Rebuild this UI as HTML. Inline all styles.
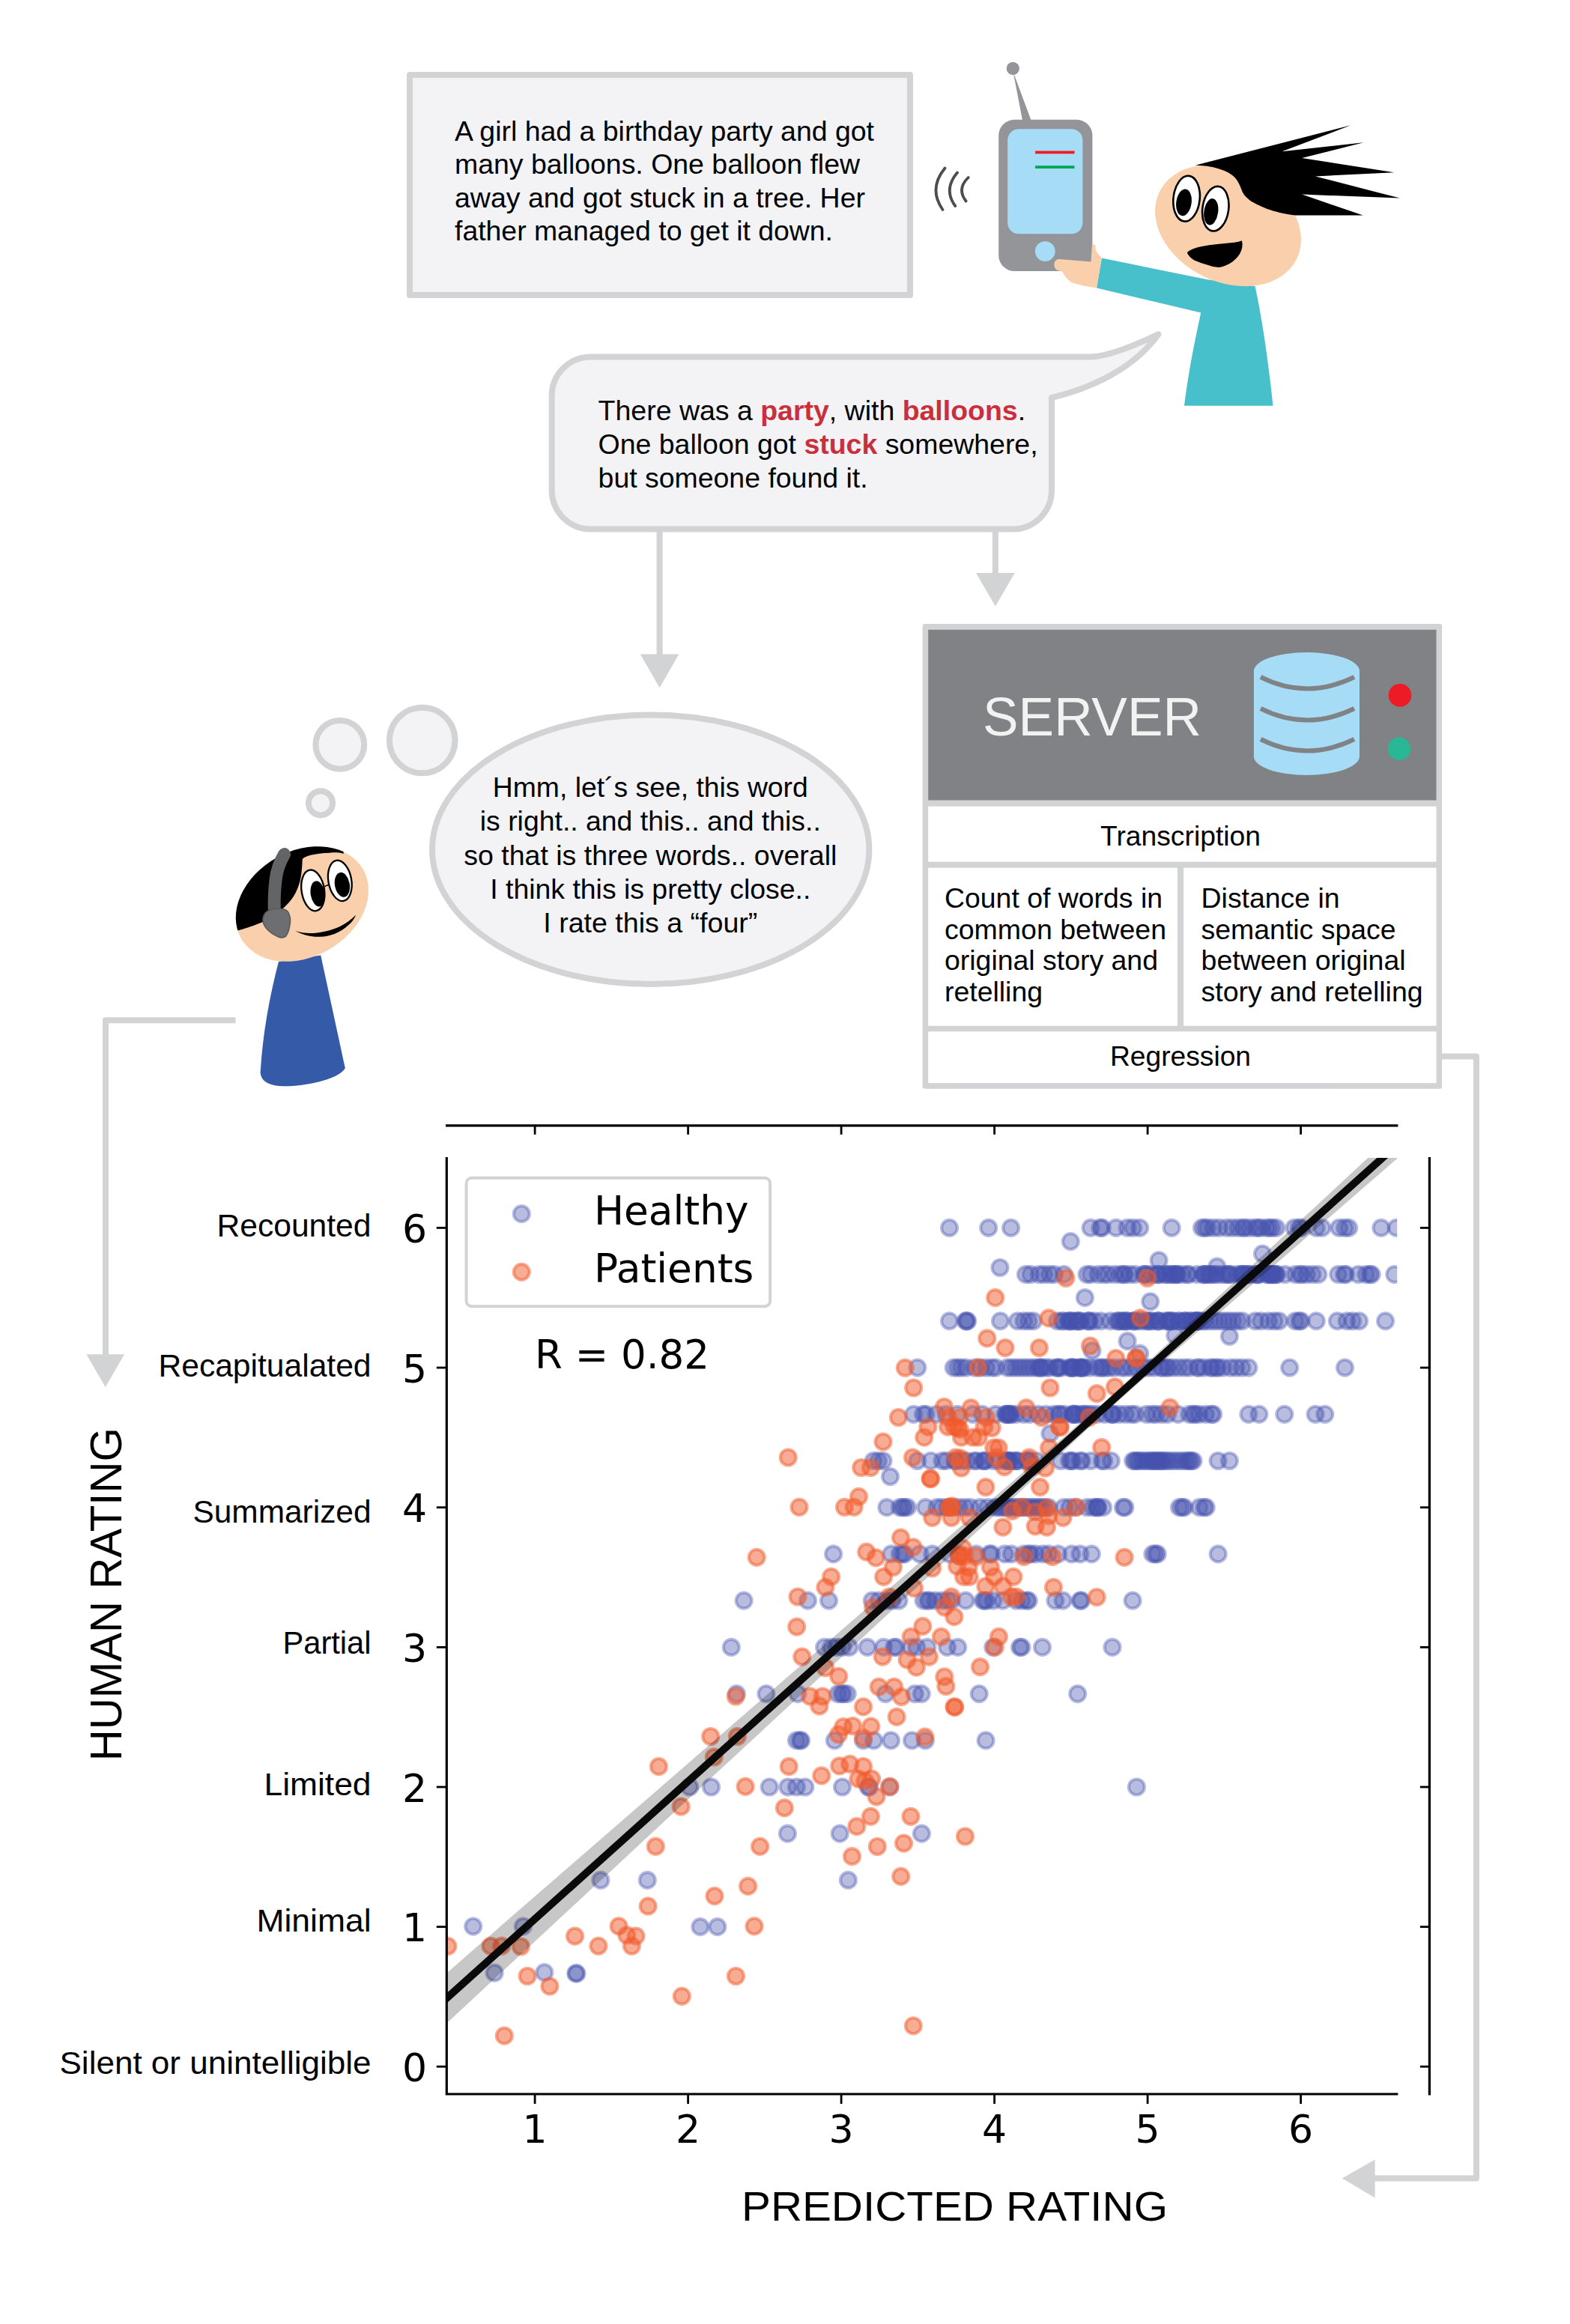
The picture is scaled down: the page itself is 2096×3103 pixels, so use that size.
<!DOCTYPE html>
<html lang="en">
<head>
<meta charset="utf-8">
<title>Story retelling: human rating vs predicted rating</title>
<style>
html,body{margin:0;padding:0;background:#ffffff;}
body{width:2096px;height:3103px;overflow:hidden;}
svg{display:block;}
text{font-family:"Liberation Sans", sans-serif;fill:#000;}
.dj{font-family:"DejaVu Sans", "Liberation Sans", sans-serif;}
.my{font-family:"Liberation Sans", sans-serif;}
</style>
</head>
<body>
<svg width="2096" height="3103" viewBox="0 0 2096 3103">
<rect x="0" y="0" width="2096" height="3103" fill="#ffffff"/>
<g id="storybox">
<rect x="547" y="100" width="668" height="294" fill="#f3f3f5" stroke="#d1d3d4" stroke-width="8" stroke-linejoin="round"/>
<text font-size="37" x="607" y="187.5" textLength="560" lengthAdjust="spacingAndGlyphs">A girl had a birthday party and got</text>
<text font-size="37" x="607" y="232" textLength="541" lengthAdjust="spacingAndGlyphs">many balloons. One balloon flew</text>
<text font-size="37" x="607" y="276.5" textLength="548" lengthAdjust="spacingAndGlyphs">away and got stuck in a tree. Her</text>
<text font-size="37" x="607" y="321" textLength="505" lengthAdjust="spacingAndGlyphs">father managed to get it down.</text>
</g>
<g id="waves" fill="none" stroke="#4d4d4f" stroke-width="3.8" stroke-linecap="round">
<path d="M1261.5 224.5 Q1239 252 1258.5 280"/>
<path d="M1278 230.5 Q1259 253 1275.3 275"/>
<path d="M1292.7 237 Q1277 252 1289.6 268.5"/>
</g>
<g id="phone">
<path d="M1352.6 96 L1365.3 162 L1377.1 162 Z" fill="#939598"/>
<circle cx="1352.3" cy="91.4" r="8.6" fill="#939598"/>
<rect x="1333.2" y="159.8" width="125.2" height="202.2" rx="21" ry="21" fill="#939598"/>
<rect x="1345.2" y="172.2" width="100.2" height="140.1" rx="15" ry="15" fill="#a6dcf5"/>
<circle cx="1395.3" cy="335.6" r="13.4" fill="#a6dcf5"/>
<rect x="1382.1" y="201.5" width="52.4" height="3.8" fill="#ed1c24"/>
<rect x="1382.1" y="221.2" width="52.4" height="3.8" fill="#00a651"/>
</g>
<g id="speaker">
<path d="M1470.8 344.6 L1612 373.2 L1675.5 382 C1686 430 1694 490 1699.5 541.8 L1581 541.8 C1586 500 1594 460 1603.2 417.5 L1464 384.4 Z" fill="#48c0cb"/>
<path d="M1414.5 346.1 L1456.5 349.6 L1458 326 L1462.2 327 L1462.8 333.7 Q1465 339 1470.8 344.6 L1464.1 384.4 Q1445 382 1430.7 377.3 Q1422 371 1418.2 362.4 L1414 361.4 Q1407.3 360.3 1407.3 353.6 Q1407.3 346.1 1414.5 346.1 Z" fill="#fad0ac"/>
<ellipse cx="1639.5" cy="301" rx="102" ry="75.5" transform="rotate(26 1639.5 301)" fill="#fad0ac"/>
<path d="M1595.5 220.8 L1803.2 167.3 L1711.5 202.2 L1820.5 190.3 L1738.2 211.1 L1861.3 230.3 L1756 235.4 L1868.9 264.6 L1738.2 259.6 L1819.7 287.6 L1729.3 287.6 C1712 285 1702 282.5 1691.1 278.7 C1680 274 1674 271 1668.2 267.2 C1662 262 1659.5 258.5 1658 254.5 L1655.4 248.1 C1652 241 1650 238 1645.2 234.1 C1638 228.5 1632 226.5 1622.3 223.9 C1612 221.5 1604 221 1595.5 220.8 Z" fill="#000"/>
<ellipse cx="1584.1" cy="265.2" rx="17.6" ry="30.5" transform="rotate(6 1584.1 265.2)" fill="#fff" stroke="#000" stroke-width="2.6"/>
<ellipse cx="1580.5" cy="270.3" rx="10.2" ry="18" transform="rotate(8 1580.5 270.3)" fill="#000"/>
<ellipse cx="1622.8" cy="278.7" rx="17.4" ry="30" transform="rotate(8 1622.8 278.7)" fill="#fff" stroke="#000" stroke-width="2.6"/>
<ellipse cx="1616.8" cy="282.8" rx="9.4" ry="17.8" transform="rotate(8 1616.8 282.8)" fill="#000"/>
<path d="M1584.8 337.3 Q1590 332 1601.9 329.6 Q1614 327 1627.4 325.8 L1647.8 323.8 Q1654 323 1658 321.2 Q1660 330 1655.4 338.5 Q1651 346 1642.7 351.3 Q1635 356 1627.4 356.9 Q1620 357 1612.1 353.8 Q1602 351 1594.3 347.5 Q1587 343 1584.8 337.3 Z" fill="#000"/>
</g>
<g id="speech">
<path d="M788.7 476.4 L1456 476.4 C1480 476 1515 461 1546.5 446.5 C1515 490 1462 517 1404 531 L1404 654.6 A52 52 0 0 1 1352 706.6 L788.7 706.6 A52 52 0 0 1 736.7 654.6 L736.7 528.4 A52 52 0 0 1 788.7 476.4 Z" fill="#f3f3f5" stroke="#d1d3d4" stroke-width="8" stroke-linejoin="round"/>
<text font-size="37" x="798.6" y="561" textLength="570.5" lengthAdjust="spacingAndGlyphs">There was a <tspan font-weight="bold" fill="#c9303c">party</tspan>, with <tspan font-weight="bold" fill="#c9303c">balloons</tspan>.</text>
<text font-size="37" x="798.6" y="606" textLength="587" lengthAdjust="spacingAndGlyphs">One balloon got <tspan font-weight="bold" fill="#c9303c">stuck</tspan> somewhere,</text>
<text font-size="37" x="798.6" y="651" textLength="360" lengthAdjust="spacingAndGlyphs">but someone found it.</text>
</g>
<g id="arrows1" fill="#d1d3d4" stroke="none">
<rect x="876.6" y="708" width="8" height="166"/>
<path d="M854.8 873.5 L906.4 873.5 L880.6 918.2 Z"/>
<rect x="1324.9" y="708" width="8" height="57"/>
<path d="M1303 764.9 L1354.7 764.9 L1328.9 809.6 Z"/>
</g>
<g id="server">
<rect x="1231.6" y="833.1" width="693.5" height="620.7" fill="#d1d3d4" rx="3" ry="3"/>
<rect x="1239.2" y="840.8" width="678.3" height="227.7" fill="#808285"/>
<rect x="1239.2" y="1076.7" width="678.3" height="73.9" fill="#fff"/>
<rect x="1239.2" y="1158.7" width="332.8" height="211" fill="#fff"/>
<rect x="1580.1" y="1158.7" width="337.4" height="211" fill="#fff"/>
<rect x="1239.2" y="1377.3" width="678.3" height="68.8" fill="#fff"/>
<text font-size="72" x="1312" y="982.4" fill="#f1f2f2" textLength="292" lengthAdjust="spacingAndGlyphs" style="fill:#f1f2f2">SERVER</text>
<path d="M1673.9 896 A70.5 25 0 0 1 1815 896 L1815 1010 A70.5 25 0 0 1 1673.9 1010 Z" fill="#a6dcf5"/>
<g fill="none" stroke="#808285" stroke-width="6.2" stroke-linecap="butt">
<path d="M1683 904 Q1744.5 935 1808 904"/>
<path d="M1683 946 Q1744.5 977 1808 946"/>
<path d="M1683 987 Q1744.5 1018 1808 987"/>
</g>
<circle cx="1869" cy="928.4" r="15.3" fill="#ed1c24"/>
<circle cx="1868" cy="999.7" r="15.3" fill="#2ab795"/>
<text font-size="37" x="1576" y="1128.7" text-anchor="middle" textLength="214" lengthAdjust="spacingAndGlyphs">Transcription</text>
<text font-size="37" x="1261" y="1211.7" textLength="291" lengthAdjust="spacingAndGlyphs">Count of words in</text>
<text font-size="37" x="1261" y="1253.5" textLength="296" lengthAdjust="spacingAndGlyphs">common between</text>
<text font-size="37" x="1261" y="1295.3" textLength="285" lengthAdjust="spacingAndGlyphs">original story and</text>
<text font-size="37" x="1261" y="1336.6" textLength="131" lengthAdjust="spacingAndGlyphs">retelling</text>
<text font-size="37" x="1603.6" y="1211.7" textLength="185" lengthAdjust="spacingAndGlyphs">Distance in</text>
<text font-size="37" x="1603.6" y="1253.5" textLength="260" lengthAdjust="spacingAndGlyphs">semantic space</text>
<text font-size="37" x="1603.6" y="1295.3" textLength="273" lengthAdjust="spacingAndGlyphs">between original</text>
<text font-size="37" x="1603.6" y="1336.6" textLength="296" lengthAdjust="spacingAndGlyphs">story and retelling</text>
<text font-size="37" x="1576" y="1422.7" text-anchor="middle" textLength="188" lengthAdjust="spacingAndGlyphs">Regression</text>
</g>
<g id="connectors" fill="none" stroke="#d1d3d4" stroke-width="8" stroke-linejoin="round">
<path d="M1925 1410.4 L1971 1410.4 L1971 2908.5 L1834 2908.5"/>
<path d="M314.5 1362.2 L141 1362.2 L141 1810"/>
</g>
<g fill="#d1d3d4">
<path d="M1835.6 2883.5 L1835.6 2934.5 L1791.8 2908.5 Z"/>
<path d="M115.3 1808.2 L166.1 1808.2 L140.7 1852.1 Z"/>
</g>
<g id="thought">
<ellipse cx="868.7" cy="1134.3" rx="291.7" ry="179.7" fill="#f3f3f5" stroke="#d1d3d4" stroke-width="8"/>
<circle cx="563.7" cy="988.5" r="43.8" fill="#f3f3f5" stroke="#d1d3d4" stroke-width="8"/>
<circle cx="453.8" cy="994.3" r="32.4" fill="#f3f3f5" stroke="#d1d3d4" stroke-width="8"/>
<circle cx="428" cy="1072.3" r="16.1" fill="#f3f3f5" stroke="#d1d3d4" stroke-width="8"/>
<g font-size="37" text-anchor="middle">
<text x="868.3" y="1064" textLength="421" lengthAdjust="spacingAndGlyphs">Hmm, let´s see, this word</text>
<text x="868.3" y="1109" textLength="455" lengthAdjust="spacingAndGlyphs">is right.. and this.. and this..</text>
<text x="868.3" y="1154.7" textLength="498" lengthAdjust="spacingAndGlyphs">so that is three words.. overall</text>
<text x="868.3" y="1199.6" textLength="428" lengthAdjust="spacingAndGlyphs">I think this is pretty close..</text>
<text x="868.3" y="1245.3" textLength="286" lengthAdjust="spacingAndGlyphs">I rate this a “four”</text>
</g>
</g>
<g id="rater">
<path d="M372 1284 L428.2 1275.6 C440 1330 452 1385 460.8 1426 C456 1437 425 1447.5 390 1450 C362 1451.5 349 1446 347.6 1432 C351 1378 360 1330 372 1284 Z" fill="#345aa8"/>
<clipPath id="headclip"><ellipse cx="403.4" cy="1207" rx="93.6" ry="70.6" transform="rotate(-29.4 403.4 1207)"/></clipPath>
<ellipse cx="403.4" cy="1207" rx="93.6" ry="70.6" transform="rotate(-29.4 403.4 1207)" fill="#fad0ac"/>
<path clip-path="url(#headclip)" d="M458.6 1100 L458.6 1139.9 C452 1138 446 1138.2 440.1 1138.7 C430 1139 422 1140 414.6 1141.8 C409 1143.5 405.5 1145 403.8 1146.9 C403.5 1151 403.4 1156 402.9 1161 C402.5 1166 401.8 1171 400.6 1176.2 C399 1182 397 1187.5 394.3 1192.8 C391 1199 386.8 1204.5 381.5 1209.4 C376 1214.8 370 1219.8 363.7 1224.6 C358 1228.3 351.5 1231.2 344.6 1233.6 C336 1236.8 327 1240 317.2 1242.5 L300 1250 L290 1100 Z" fill="#000"/>
<path d="M379.6 1140.6 C373 1152 369.5 1162 368.2 1173.7 C366.5 1187 366 1200 366.2 1213" fill="none" stroke="#636466" stroke-width="17" stroke-linecap="round"/>
<path d="M371.3 1213.2 C377 1213 381.5 1214 384.1 1217 C387 1222 388.2 1227 387.3 1232.3 C386.5 1240 384.5 1246 381.5 1250.1 C378.5 1252.5 375 1252.5 371.3 1250.8 C365 1248 360 1244.5 356 1240 C352.5 1236 350.8 1231.5 351 1227.2 C351.5 1223.5 352.8 1220.5 354.8 1218.3 C359 1214.5 365 1213.2 371.3 1213.2 Z" fill="#6d6e71" stroke="#58595b" stroke-width="1.6"/>
<path d="M375 1180 C374.5 1192 374.3 1203 374.6 1214" fill="none" stroke="#636466" stroke-width="0"/>
<ellipse cx="417.8" cy="1188.9" rx="15.2" ry="27.6" transform="rotate(-9 417.8 1188.9)" fill="#fff" stroke="#000" stroke-width="2.3"/>
<ellipse cx="424.2" cy="1193.4" rx="9.5" ry="17.2" transform="rotate(-9 424.2 1193.4)" fill="#000"/>
<ellipse cx="453.8" cy="1175.9" rx="15.4" ry="27.4" transform="rotate(-10 453.8 1175.9)" fill="#fff" stroke="#000" stroke-width="2.3"/>
<ellipse cx="456.9" cy="1181.3" rx="9.9" ry="16.6" transform="rotate(-10 456.9 1181.3)" fill="#000"/>
<path d="M432.5 1183.9 L438.9 1181.3" stroke="#000" stroke-width="1.5" fill="none"/>
<path d="M394.3 1243.1 C412 1248.5 432 1246 452.9 1237.4 C462 1233 469 1228 475.2 1221.5 C473 1227 470 1231 465.6 1234.8 C460 1240 454 1244 446.5 1246.9 C440 1249.3 434 1250.5 427.4 1250.8 C422 1251 417 1250.5 412.1 1249.5 C405 1248 400 1246 394.3 1243.1 Z" fill="#000"/>
</g>
<g id="plot">
<clipPath id="axclip"><rect x="596" y="1546" width="1269.2" height="1249.5"/></clipPath>
<g clip-path="url(#axclip)">
<g fill="#4452ae" fill-opacity="0.38" stroke="#4452ae" stroke-opacity="0.38" stroke-width="4.2">
<circle cx="1267.5" cy="1639.4" r="10.5"/><circle cx="1319.7" cy="1639.4" r="10.5"/><circle cx="1349.6" cy="1639.4" r="10.5"/><circle cx="1456.1" cy="1639.4" r="10.5"/><circle cx="1468.8" cy="1639.4" r="10.5"/><circle cx="1471.3" cy="1639.4" r="10.5"/><circle cx="1489.9" cy="1639.4" r="10.5"/><circle cx="1429.3" cy="1657.6" r="10.5"/><circle cx="1335.0" cy="1692.5" r="10.5"/><circle cx="1448.4" cy="1732.7" r="10.5"/><circle cx="1369.4" cy="1701.6" r="10.5"/><circle cx="1375.8" cy="1701.6" r="10.5"/><circle cx="1387.3" cy="1701.6" r="10.5"/><circle cx="1393.6" cy="1701.6" r="10.5"/><circle cx="1401.3" cy="1701.6" r="10.5"/><circle cx="1407.6" cy="1701.6" r="10.5"/><circle cx="1420.4" cy="1701.6" r="10.5"/><circle cx="1451.0" cy="1701.6" r="10.5"/><circle cx="1456.1" cy="1701.6" r="10.5"/><circle cx="1466.2" cy="1701.6" r="10.5"/><circle cx="1473.9" cy="1701.6" r="10.5"/><circle cx="1479.0" cy="1701.6" r="10.5"/><circle cx="1487.9" cy="1701.6" r="10.5"/><circle cx="1495.5" cy="1701.6" r="10.5"/><circle cx="1267.5" cy="1763.8" r="10.5"/><circle cx="1289.2" cy="1763.8" r="10.5"/><circle cx="1290.4" cy="1763.8" r="10.5"/><circle cx="1291.7" cy="1763.8" r="10.5"/><circle cx="1335.5" cy="1763.8" r="10.5"/><circle cx="1358.5" cy="1763.8" r="10.5"/><circle cx="1366.9" cy="1763.8" r="10.5"/><circle cx="1373.2" cy="1763.8" r="10.5"/><circle cx="1379.6" cy="1763.8" r="10.5"/><circle cx="1411.5" cy="1763.8" r="10.5"/><circle cx="1417.7" cy="1763.8" r="10.5"/><circle cx="1419.5" cy="1763.8" r="10.5"/><circle cx="1426.1" cy="1763.8" r="10.5"/><circle cx="1427.4" cy="1763.8" r="10.5"/><circle cx="1429.6" cy="1763.8" r="10.5"/><circle cx="1431.8" cy="1763.8" r="10.5"/><circle cx="1437.1" cy="1763.8" r="10.5"/><circle cx="1439.0" cy="1763.8" r="10.5"/><circle cx="1440.6" cy="1763.8" r="10.5"/><circle cx="1442.5" cy="1763.8" r="10.5"/><circle cx="1451.9" cy="1763.8" r="10.5"/><circle cx="1453.4" cy="1763.8" r="10.5"/><circle cx="1455.1" cy="1763.8" r="10.5"/><circle cx="1461.2" cy="1763.8" r="10.5"/><circle cx="1469.9" cy="1763.8" r="10.5"/><circle cx="1482.3" cy="1763.8" r="10.5"/><circle cx="1491.3" cy="1763.8" r="10.5"/><circle cx="1493.4" cy="1763.8" r="10.5"/><circle cx="1495.6" cy="1763.8" r="10.5"/><circle cx="1505.1" cy="1639.4" r="10.5"/><circle cx="1512.7" cy="1639.4" r="10.5"/><circle cx="1521.7" cy="1639.4" r="10.5"/><circle cx="1564.2" cy="1639.4" r="10.5"/><circle cx="1604.5" cy="1639.4" r="10.5"/><circle cx="1608.3" cy="1639.4" r="10.5"/><circle cx="1612.1" cy="1639.4" r="10.5"/><circle cx="1619.7" cy="1639.4" r="10.5"/><circle cx="1627.4" cy="1639.4" r="10.5"/><circle cx="1637.6" cy="1639.4" r="10.5"/><circle cx="1645.2" cy="1639.4" r="10.5"/><circle cx="1652.9" cy="1639.4" r="10.5"/><circle cx="1659.2" cy="1639.4" r="10.5"/><circle cx="1661.8" cy="1639.4" r="10.5"/><circle cx="1668.2" cy="1639.4" r="10.5"/><circle cx="1675.8" cy="1639.4" r="10.5"/><circle cx="1679.6" cy="1639.4" r="10.5"/><circle cx="1683.4" cy="1639.4" r="10.5"/><circle cx="1691.1" cy="1639.4" r="10.5"/><circle cx="1694.9" cy="1639.4" r="10.5"/><circle cx="1698.7" cy="1639.4" r="10.5"/><circle cx="1703.8" cy="1639.4" r="10.5"/><circle cx="1728.0" cy="1639.4" r="10.5"/><circle cx="1734.4" cy="1639.4" r="10.5"/><circle cx="1736.9" cy="1639.4" r="10.5"/><circle cx="1757.3" cy="1639.4" r="10.5"/><circle cx="1765.0" cy="1639.4" r="10.5"/><circle cx="1787.9" cy="1639.4" r="10.5"/><circle cx="1795.5" cy="1639.4" r="10.5"/><circle cx="1800.6" cy="1639.4" r="10.5"/><circle cx="1843.9" cy="1639.4" r="10.5"/><circle cx="1864.3" cy="1639.4" r="10.5"/><circle cx="1500.0" cy="1701.6" r="10.5"/><circle cx="1501.5" cy="1701.6" r="10.5"/><circle cx="1508.3" cy="1701.6" r="10.5"/><circle cx="1515.3" cy="1701.6" r="10.5"/><circle cx="1526.8" cy="1701.6" r="10.5"/><circle cx="1528.5" cy="1701.6" r="10.5"/><circle cx="1530.4" cy="1701.6" r="10.5"/><circle cx="1537.2" cy="1701.6" r="10.5"/><circle cx="1544.6" cy="1701.6" r="10.5"/><circle cx="1546.0" cy="1701.6" r="10.5"/><circle cx="1547.1" cy="1701.6" r="10.5"/><circle cx="1555.2" cy="1701.6" r="10.5"/><circle cx="1556.3" cy="1701.6" r="10.5"/><circle cx="1561.2" cy="1701.6" r="10.5"/><circle cx="1562.7" cy="1701.6" r="10.5"/><circle cx="1566.9" cy="1701.6" r="10.5"/><circle cx="1568.9" cy="1701.6" r="10.5"/><circle cx="1570.8" cy="1701.6" r="10.5"/><circle cx="1572.2" cy="1701.6" r="10.5"/><circle cx="1577.9" cy="1701.6" r="10.5"/><circle cx="1584.9" cy="1701.6" r="10.5"/><circle cx="1586.5" cy="1701.6" r="10.5"/><circle cx="1597.9" cy="1701.6" r="10.5"/><circle cx="1607.0" cy="1701.6" r="10.5"/><circle cx="1608.8" cy="1701.6" r="10.5"/><circle cx="1615.5" cy="1701.6" r="10.5"/><circle cx="1616.8" cy="1701.6" r="10.5"/><circle cx="1621.9" cy="1701.6" r="10.5"/><circle cx="1624.1" cy="1701.6" r="10.5"/><circle cx="1630.7" cy="1701.6" r="10.5"/><circle cx="1641.0" cy="1701.6" r="10.5"/><circle cx="1642.8" cy="1701.6" r="10.5"/><circle cx="1651.8" cy="1701.6" r="10.5"/><circle cx="1657.0" cy="1701.6" r="10.5"/><circle cx="1658.1" cy="1701.6" r="10.5"/><circle cx="1659.9" cy="1701.6" r="10.5"/><circle cx="1661.1" cy="1701.6" r="10.5"/><circle cx="1665.4" cy="1701.6" r="10.5"/><circle cx="1667.1" cy="1701.6" r="10.5"/><circle cx="1668.5" cy="1701.6" r="10.5"/><circle cx="1677.0" cy="1701.6" r="10.5"/><circle cx="1678.1" cy="1701.6" r="10.5"/><circle cx="1679.3" cy="1701.6" r="10.5"/><circle cx="1680.7" cy="1701.6" r="10.5"/><circle cx="1690.9" cy="1701.6" r="10.5"/><circle cx="1693.0" cy="1701.6" r="10.5"/><circle cx="1695.0" cy="1701.6" r="10.5"/><circle cx="1696.8" cy="1701.6" r="10.5"/><circle cx="1698.0" cy="1701.6" r="10.5"/><circle cx="1700.0" cy="1701.6" r="10.5"/><circle cx="1701.6" cy="1701.6" r="10.5"/><circle cx="1703.4" cy="1701.6" r="10.5"/><circle cx="1704.7" cy="1701.6" r="10.5"/><circle cx="1715.6" cy="1701.6" r="10.5"/><circle cx="1607.0" cy="1701.6" r="10.5"/><circle cx="1612.1" cy="1701.6" r="10.5"/><circle cx="1635.0" cy="1701.6" r="10.5"/><circle cx="1638.9" cy="1701.6" r="10.5"/><circle cx="1729.3" cy="1701.6" r="10.5"/><circle cx="1735.7" cy="1701.6" r="10.5"/><circle cx="1738.2" cy="1701.6" r="10.5"/><circle cx="1744.6" cy="1701.6" r="10.5"/><circle cx="1752.2" cy="1701.6" r="10.5"/><circle cx="1759.9" cy="1701.6" r="10.5"/><circle cx="1786.6" cy="1701.6" r="10.5"/><circle cx="1794.3" cy="1701.6" r="10.5"/><circle cx="1796.8" cy="1701.6" r="10.5"/><circle cx="1813.4" cy="1701.6" r="10.5"/><circle cx="1823.6" cy="1701.6" r="10.5"/><circle cx="1828.7" cy="1701.6" r="10.5"/><circle cx="1831.2" cy="1701.6" r="10.5"/><circle cx="1861.8" cy="1701.6" r="10.5"/><circle cx="1500.0" cy="1763.8" r="10.5"/><circle cx="1501.3" cy="1763.8" r="10.5"/><circle cx="1504.3" cy="1763.8" r="10.5"/><circle cx="1505.0" cy="1763.8" r="10.5"/><circle cx="1512.7" cy="1763.8" r="10.5"/><circle cx="1513.7" cy="1763.8" r="10.5"/><circle cx="1514.9" cy="1763.8" r="10.5"/><circle cx="1520.0" cy="1763.8" r="10.5"/><circle cx="1524.9" cy="1763.8" r="10.5"/><circle cx="1531.0" cy="1763.8" r="10.5"/><circle cx="1532.0" cy="1763.8" r="10.5"/><circle cx="1536.6" cy="1763.8" r="10.5"/><circle cx="1537.4" cy="1763.8" r="10.5"/><circle cx="1545.4" cy="1763.8" r="10.5"/><circle cx="1546.2" cy="1763.8" r="10.5"/><circle cx="1547.1" cy="1763.8" r="10.5"/><circle cx="1555.2" cy="1763.8" r="10.5"/><circle cx="1559.5" cy="1763.8" r="10.5"/><circle cx="1560.3" cy="1763.8" r="10.5"/><circle cx="1561.3" cy="1763.8" r="10.5"/><circle cx="1565.2" cy="1763.8" r="10.5"/><circle cx="1566.1" cy="1763.8" r="10.5"/><circle cx="1573.2" cy="1763.8" r="10.5"/><circle cx="1574.5" cy="1763.8" r="10.5"/><circle cx="1581.1" cy="1763.8" r="10.5"/><circle cx="1582.5" cy="1763.8" r="10.5"/><circle cx="1583.4" cy="1763.8" r="10.5"/><circle cx="1589.0" cy="1763.8" r="10.5"/><circle cx="1589.7" cy="1763.8" r="10.5"/><circle cx="1595.4" cy="1763.8" r="10.5"/><circle cx="1596.5" cy="1763.8" r="10.5"/><circle cx="1597.4" cy="1763.8" r="10.5"/><circle cx="1598.4" cy="1763.8" r="10.5"/><circle cx="1599.7" cy="1763.8" r="10.5"/><circle cx="1600.8" cy="1763.8" r="10.5"/><circle cx="1605.9" cy="1763.8" r="10.5"/><circle cx="1609.6" cy="1763.8" r="10.5"/><circle cx="1615.7" cy="1763.8" r="10.5"/><circle cx="1621.8" cy="1763.8" r="10.5"/><circle cx="1627.9" cy="1763.8" r="10.5"/><circle cx="1634.0" cy="1763.8" r="10.5"/><circle cx="1640.1" cy="1763.8" r="10.5"/><circle cx="1646.2" cy="1763.8" r="10.5"/><circle cx="1652.4" cy="1763.8" r="10.5"/><circle cx="1658.5" cy="1763.8" r="10.5"/><circle cx="1675.8" cy="1763.8" r="10.5"/><circle cx="1683.4" cy="1763.8" r="10.5"/><circle cx="1693.6" cy="1763.8" r="10.5"/><circle cx="1701.3" cy="1763.8" r="10.5"/><circle cx="1707.6" cy="1763.8" r="10.5"/><circle cx="1729.3" cy="1763.8" r="10.5"/><circle cx="1734.4" cy="1763.8" r="10.5"/><circle cx="1736.9" cy="1763.8" r="10.5"/><circle cx="1757.3" cy="1763.8" r="10.5"/><circle cx="1785.4" cy="1763.8" r="10.5"/><circle cx="1798.1" cy="1763.8" r="10.5"/><circle cx="1805.7" cy="1763.8" r="10.5"/><circle cx="1814.6" cy="1763.8" r="10.5"/><circle cx="1849.6" cy="1763.8" r="10.5"/><circle cx="1547.1" cy="1682.8" r="10.5"/><circle cx="1624.8" cy="1691.2" r="10.5"/><circle cx="1685.5" cy="1674.1" r="10.5"/><circle cx="1535.7" cy="1737.8" r="10.5"/><circle cx="1224.8" cy="1826.1" r="10.5"/><circle cx="1273.2" cy="1826.1" r="10.5"/><circle cx="1278.3" cy="1826.1" r="10.5"/><circle cx="1283.4" cy="1826.1" r="10.5"/><circle cx="1289.8" cy="1826.1" r="10.5"/><circle cx="1301.3" cy="1826.1" r="10.5"/><circle cx="1308.9" cy="1826.1" r="10.5"/><circle cx="1316.6" cy="1826.1" r="10.5"/><circle cx="1324.2" cy="1826.1" r="10.5"/><circle cx="1329.3" cy="1826.1" r="10.5"/><circle cx="1344.6" cy="1826.1" r="10.5"/><circle cx="1350.2" cy="1826.1" r="10.5"/><circle cx="1355.8" cy="1826.1" r="10.5"/><circle cx="1361.4" cy="1826.1" r="10.5"/><circle cx="1367.0" cy="1826.1" r="10.5"/><circle cx="1372.6" cy="1826.1" r="10.5"/><circle cx="1378.2" cy="1826.1" r="10.5"/><circle cx="1383.8" cy="1826.1" r="10.5"/><circle cx="1387.9" cy="1826.1" r="10.5"/><circle cx="1389.4" cy="1826.1" r="10.5"/><circle cx="1390.8" cy="1826.1" r="10.5"/><circle cx="1396.6" cy="1826.1" r="10.5"/><circle cx="1401.2" cy="1826.1" r="10.5"/><circle cx="1410.4" cy="1826.1" r="10.5"/><circle cx="1411.8" cy="1826.1" r="10.5"/><circle cx="1413.0" cy="1826.1" r="10.5"/><circle cx="1416.9" cy="1826.1" r="10.5"/><circle cx="1427.9" cy="1826.1" r="10.5"/><circle cx="1429.7" cy="1826.1" r="10.5"/><circle cx="1431.4" cy="1826.1" r="10.5"/><circle cx="1432.4" cy="1826.1" r="10.5"/><circle cx="1433.9" cy="1826.1" r="10.5"/><circle cx="1440.6" cy="1826.1" r="10.5"/><circle cx="1442.0" cy="1826.1" r="10.5"/><circle cx="1443.6" cy="1826.1" r="10.5"/><circle cx="1445.4" cy="1826.1" r="10.5"/><circle cx="1447.1" cy="1826.1" r="10.5"/><circle cx="1454.8" cy="1826.1" r="10.5"/><circle cx="1464.5" cy="1826.1" r="10.5"/><circle cx="1469.6" cy="1826.1" r="10.5"/><circle cx="1471.5" cy="1826.1" r="10.5"/><circle cx="1475.7" cy="1826.1" r="10.5"/><circle cx="1480.7" cy="1826.1" r="10.5"/><circle cx="1487.7" cy="1826.1" r="10.5"/><circle cx="1497.3" cy="1826.1" r="10.5"/><circle cx="1219.7" cy="1888.3" r="10.5"/><circle cx="1232.5" cy="1888.3" r="10.5"/><circle cx="1236.3" cy="1888.3" r="10.5"/><circle cx="1250.3" cy="1888.3" r="10.5"/><circle cx="1263.1" cy="1888.3" r="10.5"/><circle cx="1278.3" cy="1888.3" r="10.5"/><circle cx="1298.7" cy="1888.3" r="10.5"/><circle cx="1311.5" cy="1888.3" r="10.5"/><circle cx="1329.3" cy="1888.3" r="10.5"/><circle cx="1342.0" cy="1888.3" r="10.5"/><circle cx="1343.8" cy="1888.3" r="10.5"/><circle cx="1344.9" cy="1888.3" r="10.5"/><circle cx="1346.8" cy="1888.3" r="10.5"/><circle cx="1348.7" cy="1888.3" r="10.5"/><circle cx="1350.1" cy="1888.3" r="10.5"/><circle cx="1356.0" cy="1888.3" r="10.5"/><circle cx="1366.6" cy="1888.3" r="10.5"/><circle cx="1374.8" cy="1888.3" r="10.5"/><circle cx="1385.8" cy="1888.3" r="10.5"/><circle cx="1396.4" cy="1888.3" r="10.5"/><circle cx="1407.1" cy="1888.3" r="10.5"/><circle cx="1413.1" cy="1888.3" r="10.5"/><circle cx="1415.1" cy="1888.3" r="10.5"/><circle cx="1420.6" cy="1888.3" r="10.5"/><circle cx="1432.0" cy="1888.3" r="10.5"/><circle cx="1433.1" cy="1888.3" r="10.5"/><circle cx="1434.2" cy="1888.3" r="10.5"/><circle cx="1435.9" cy="1888.3" r="10.5"/><circle cx="1441.0" cy="1888.3" r="10.5"/><circle cx="1446.8" cy="1888.3" r="10.5"/><circle cx="1448.1" cy="1888.3" r="10.5"/><circle cx="1453.0" cy="1888.3" r="10.5"/><circle cx="1457.7" cy="1888.3" r="10.5"/><circle cx="1464.6" cy="1888.3" r="10.5"/><circle cx="1474.9" cy="1888.3" r="10.5"/><circle cx="1483.7" cy="1888.3" r="10.5"/><circle cx="1485.3" cy="1888.3" r="10.5"/><circle cx="1486.5" cy="1888.3" r="10.5"/><circle cx="1494.0" cy="1888.3" r="10.5"/><circle cx="1166.2" cy="1950.5" r="10.5"/><circle cx="1172.6" cy="1950.5" r="10.5"/><circle cx="1179.0" cy="1950.5" r="10.5"/><circle cx="1224.8" cy="1950.5" r="10.5"/><circle cx="1242.7" cy="1950.5" r="10.5"/><circle cx="1258.0" cy="1950.5" r="10.5"/><circle cx="1263.3" cy="1950.5" r="10.5"/><circle cx="1274.9" cy="1950.5" r="10.5"/><circle cx="1276.1" cy="1950.5" r="10.5"/><circle cx="1284.5" cy="1950.5" r="10.5"/><circle cx="1290.7" cy="1950.5" r="10.5"/><circle cx="1301.0" cy="1950.5" r="10.5"/><circle cx="1302.9" cy="1950.5" r="10.5"/><circle cx="1312.4" cy="1950.5" r="10.5"/><circle cx="1314.1" cy="1950.5" r="10.5"/><circle cx="1315.3" cy="1950.5" r="10.5"/><circle cx="1326.6" cy="1950.5" r="10.5"/><circle cx="1333.7" cy="1950.5" r="10.5"/><circle cx="1343.4" cy="1950.5" r="10.5"/><circle cx="1344.8" cy="1950.5" r="10.5"/><circle cx="1346.1" cy="1950.5" r="10.5"/><circle cx="1347.3" cy="1950.5" r="10.5"/><circle cx="1349.1" cy="1950.5" r="10.5"/><circle cx="1355.3" cy="1950.5" r="10.5"/><circle cx="1356.6" cy="1950.5" r="10.5"/><circle cx="1358.8" cy="1950.5" r="10.5"/><circle cx="1370.4" cy="1950.5" r="10.5"/><circle cx="1372.1" cy="1950.5" r="10.5"/><circle cx="1373.4" cy="1950.5" r="10.5"/><circle cx="1374.8" cy="1950.5" r="10.5"/><circle cx="1383.7" cy="1950.5" r="10.5"/><circle cx="1415.9" cy="1950.5" r="10.5"/><circle cx="1427.5" cy="1950.5" r="10.5"/><circle cx="1430.1" cy="1950.5" r="10.5"/><circle cx="1432.2" cy="1950.5" r="10.5"/><circle cx="1442.4" cy="1950.5" r="10.5"/><circle cx="1444.2" cy="1950.5" r="10.5"/><circle cx="1456.4" cy="1950.5" r="10.5"/><circle cx="1471.3" cy="1950.5" r="10.5"/><circle cx="1473.6" cy="1950.5" r="10.5"/><circle cx="1483.3" cy="1950.5" r="10.5"/><circle cx="1458.0" cy="1803.4" r="10.5"/><circle cx="1401.9" cy="1914.1" r="10.5"/><circle cx="1502.5" cy="1826.1" r="10.5"/><circle cx="1510.2" cy="1826.1" r="10.5"/><circle cx="1517.8" cy="1826.1" r="10.5"/><circle cx="1525.5" cy="1826.1" r="10.5"/><circle cx="1533.1" cy="1826.1" r="10.5"/><circle cx="1540.8" cy="1826.1" r="10.5"/><circle cx="1549.7" cy="1826.1" r="10.5"/><circle cx="1552.2" cy="1826.1" r="10.5"/><circle cx="1557.3" cy="1826.1" r="10.5"/><circle cx="1559.9" cy="1826.1" r="10.5"/><circle cx="1566.2" cy="1826.1" r="10.5"/><circle cx="1573.9" cy="1826.1" r="10.5"/><circle cx="1581.5" cy="1826.1" r="10.5"/><circle cx="1587.9" cy="1826.1" r="10.5"/><circle cx="1598.1" cy="1826.1" r="10.5"/><circle cx="1600.6" cy="1826.1" r="10.5"/><circle cx="1607.0" cy="1826.1" r="10.5"/><circle cx="1615.9" cy="1826.1" r="10.5"/><circle cx="1618.5" cy="1826.1" r="10.5"/><circle cx="1623.6" cy="1826.1" r="10.5"/><circle cx="1626.1" cy="1826.1" r="10.5"/><circle cx="1632.5" cy="1826.1" r="10.5"/><circle cx="1642.7" cy="1826.1" r="10.5"/><circle cx="1650.3" cy="1826.1" r="10.5"/><circle cx="1658.0" cy="1826.1" r="10.5"/><circle cx="1666.9" cy="1826.1" r="10.5"/><circle cx="1721.7" cy="1826.1" r="10.5"/><circle cx="1795.5" cy="1826.1" r="10.5"/><circle cx="1502.5" cy="1888.3" r="10.5"/><circle cx="1510.2" cy="1888.3" r="10.5"/><circle cx="1515.3" cy="1888.3" r="10.5"/><circle cx="1530.6" cy="1888.3" r="10.5"/><circle cx="1538.2" cy="1888.3" r="10.5"/><circle cx="1543.3" cy="1888.3" r="10.5"/><circle cx="1551.0" cy="1888.3" r="10.5"/><circle cx="1558.6" cy="1888.3" r="10.5"/><circle cx="1572.6" cy="1888.3" r="10.5"/><circle cx="1587.9" cy="1888.3" r="10.5"/><circle cx="1593.0" cy="1888.3" r="10.5"/><circle cx="1595.5" cy="1888.3" r="10.5"/><circle cx="1600.6" cy="1888.3" r="10.5"/><circle cx="1609.6" cy="1888.3" r="10.5"/><circle cx="1617.2" cy="1888.3" r="10.5"/><circle cx="1619.7" cy="1888.3" r="10.5"/><circle cx="1666.9" cy="1888.3" r="10.5"/><circle cx="1680.9" cy="1888.3" r="10.5"/><circle cx="1714.8" cy="1888.3" r="10.5"/><circle cx="1756.1" cy="1888.3" r="10.5"/><circle cx="1768.8" cy="1888.3" r="10.5"/><circle cx="1512.7" cy="1950.5" r="10.5"/><circle cx="1517.8" cy="1950.5" r="10.5"/><circle cx="1520.4" cy="1950.5" r="10.5"/><circle cx="1528.0" cy="1950.5" r="10.5"/><circle cx="1535.7" cy="1950.5" r="10.5"/><circle cx="1540.8" cy="1950.5" r="10.5"/><circle cx="1543.3" cy="1950.5" r="10.5"/><circle cx="1548.4" cy="1950.5" r="10.5"/><circle cx="1551.0" cy="1950.5" r="10.5"/><circle cx="1557.3" cy="1950.5" r="10.5"/><circle cx="1566.2" cy="1950.5" r="10.5"/><circle cx="1576.4" cy="1950.5" r="10.5"/><circle cx="1585.4" cy="1950.5" r="10.5"/><circle cx="1590.4" cy="1950.5" r="10.5"/><circle cx="1593.0" cy="1950.5" r="10.5"/><circle cx="1626.1" cy="1950.5" r="10.5"/><circle cx="1641.4" cy="1950.5" r="10.5"/><circle cx="1515.3" cy="1950.5" r="10.5"/><circle cx="1524.2" cy="1950.5" r="10.5"/><circle cx="1531.8" cy="1950.5" r="10.5"/><circle cx="1538.2" cy="1950.5" r="10.5"/><circle cx="1545.9" cy="1950.5" r="10.5"/><circle cx="1553.5" cy="1950.5" r="10.5"/><circle cx="1561.1" cy="1950.5" r="10.5"/><circle cx="1571.3" cy="1950.5" r="10.5"/><circle cx="1581.5" cy="1950.5" r="10.5"/><circle cx="1587.9" cy="1950.5" r="10.5"/><circle cx="1505.1" cy="1790.7" r="10.5"/><circle cx="1521.7" cy="1807.2" r="10.5"/><circle cx="1568.8" cy="1783.0" r="10.5"/><circle cx="1641.4" cy="1784.3" r="10.5"/><circle cx="1183.9" cy="2012.7" r="10.5"/><circle cx="1201.3" cy="2012.7" r="10.5"/><circle cx="1205.1" cy="2012.7" r="10.5"/><circle cx="1207.6" cy="2012.7" r="10.5"/><circle cx="1211.5" cy="2012.7" r="10.5"/><circle cx="1235.7" cy="2012.7" r="10.5"/><circle cx="1251.0" cy="2012.7" r="10.5"/><circle cx="1257.3" cy="2012.7" r="10.5"/><circle cx="1265.0" cy="2012.7" r="10.5"/><circle cx="1272.6" cy="2012.7" r="10.5"/><circle cx="1280.3" cy="2012.7" r="10.5"/><circle cx="1287.9" cy="2012.7" r="10.5"/><circle cx="1295.5" cy="2012.7" r="10.5"/><circle cx="1308.3" cy="2012.7" r="10.5"/><circle cx="1318.5" cy="2012.7" r="10.5"/><circle cx="1328.7" cy="2012.7" r="10.5"/><circle cx="1333.8" cy="2012.7" r="10.5"/><circle cx="1337.8" cy="2012.7" r="10.5"/><circle cx="1341.9" cy="2012.7" r="10.5"/><circle cx="1346.0" cy="2012.7" r="10.5"/><circle cx="1350.1" cy="2012.7" r="10.5"/><circle cx="1354.1" cy="2012.7" r="10.5"/><circle cx="1358.2" cy="2012.7" r="10.5"/><circle cx="1362.3" cy="2012.7" r="10.5"/><circle cx="1366.4" cy="2012.7" r="10.5"/><circle cx="1370.4" cy="2012.7" r="10.5"/><circle cx="1374.5" cy="2012.7" r="10.5"/><circle cx="1378.6" cy="2012.7" r="10.5"/><circle cx="1382.7" cy="2012.7" r="10.5"/><circle cx="1386.8" cy="2012.7" r="10.5"/><circle cx="1390.8" cy="2012.7" r="10.5"/><circle cx="1394.9" cy="2012.7" r="10.5"/><circle cx="1112.6" cy="2074.9" r="10.5"/><circle cx="1189.8" cy="2074.9" r="10.5"/><circle cx="1201.3" cy="2074.9" r="10.5"/><circle cx="1205.1" cy="2074.9" r="10.5"/><circle cx="1207.6" cy="2074.9" r="10.5"/><circle cx="1228.0" cy="2074.9" r="10.5"/><circle cx="1244.6" cy="2074.9" r="10.5"/><circle cx="1267.5" cy="2074.9" r="10.5"/><circle cx="1280.3" cy="2074.9" r="10.5"/><circle cx="1303.2" cy="2074.9" r="10.5"/><circle cx="1321.0" cy="2074.9" r="10.5"/><circle cx="1323.6" cy="2074.9" r="10.5"/><circle cx="1341.4" cy="2074.9" r="10.5"/><circle cx="1350.3" cy="2074.9" r="10.5"/><circle cx="1366.9" cy="2074.9" r="10.5"/><circle cx="1373.2" cy="2074.9" r="10.5"/><circle cx="1375.8" cy="2074.9" r="10.5"/><circle cx="1382.2" cy="2074.9" r="10.5"/><circle cx="1392.4" cy="2074.9" r="10.5"/><circle cx="1078.5" cy="2137.1" r="10.5"/><circle cx="1106.5" cy="2137.1" r="10.5"/><circle cx="1164.3" cy="2137.1" r="10.5"/><circle cx="1173.2" cy="2137.1" r="10.5"/><circle cx="1183.4" cy="2137.1" r="10.5"/><circle cx="1191.1" cy="2137.1" r="10.5"/><circle cx="1200.0" cy="2137.1" r="10.5"/><circle cx="1233.1" cy="2137.1" r="10.5"/><circle cx="1238.2" cy="2137.1" r="10.5"/><circle cx="1240.8" cy="2137.1" r="10.5"/><circle cx="1248.4" cy="2137.1" r="10.5"/><circle cx="1257.3" cy="2137.1" r="10.5"/><circle cx="1265.0" cy="2137.1" r="10.5"/><circle cx="1270.1" cy="2137.1" r="10.5"/><circle cx="1289.2" cy="2137.1" r="10.5"/><circle cx="1312.1" cy="2137.1" r="10.5"/><circle cx="1314.6" cy="2137.1" r="10.5"/><circle cx="1317.2" cy="2137.1" r="10.5"/><circle cx="1326.1" cy="2137.1" r="10.5"/><circle cx="1338.9" cy="2137.1" r="10.5"/><circle cx="1356.7" cy="2137.1" r="10.5"/><circle cx="1364.3" cy="2137.1" r="10.5"/><circle cx="1370.7" cy="2137.1" r="10.5"/><circle cx="1373.2" cy="2137.1" r="10.5"/><circle cx="1188.5" cy="1971.6" r="10.5"/><circle cx="1400.0" cy="2012.7" r="10.5"/><circle cx="1420.4" cy="2012.7" r="10.5"/><circle cx="1428.0" cy="2012.7" r="10.5"/><circle cx="1435.7" cy="2012.7" r="10.5"/><circle cx="1451.0" cy="2012.7" r="10.5"/><circle cx="1458.6" cy="2012.7" r="10.5"/><circle cx="1463.7" cy="2012.7" r="10.5"/><circle cx="1465.0" cy="2012.7" r="10.5"/><circle cx="1466.2" cy="2012.7" r="10.5"/><circle cx="1472.6" cy="2012.7" r="10.5"/><circle cx="1499.4" cy="2012.7" r="10.5"/><circle cx="1501.9" cy="2012.7" r="10.5"/><circle cx="1574.5" cy="2012.7" r="10.5"/><circle cx="1578.3" cy="2012.7" r="10.5"/><circle cx="1580.9" cy="2012.7" r="10.5"/><circle cx="1601.3" cy="2012.7" r="10.5"/><circle cx="1607.6" cy="2012.7" r="10.5"/><circle cx="1610.2" cy="2012.7" r="10.5"/><circle cx="1400.0" cy="2074.9" r="10.5"/><circle cx="1412.7" cy="2074.9" r="10.5"/><circle cx="1430.6" cy="2074.9" r="10.5"/><circle cx="1442.0" cy="2074.9" r="10.5"/><circle cx="1457.3" cy="2074.9" r="10.5"/><circle cx="1538.9" cy="2074.9" r="10.5"/><circle cx="1542.7" cy="2074.9" r="10.5"/><circle cx="1545.2" cy="2074.9" r="10.5"/><circle cx="1626.2" cy="2074.9" r="10.5"/><circle cx="1408.9" cy="2137.1" r="10.5"/><circle cx="1419.1" cy="2137.1" r="10.5"/><circle cx="1442.0" cy="2137.1" r="10.5"/><circle cx="1443.6" cy="2137.1" r="10.5"/><circle cx="1512.1" cy="2137.1" r="10.5"/><circle cx="993.1" cy="2137.1" r="10.5"/><circle cx="976.3" cy="2199.4" r="10.5"/><circle cx="1100.6" cy="2199.4" r="10.5"/><circle cx="1109.6" cy="2199.4" r="10.5"/><circle cx="1117.2" cy="2199.4" r="10.5"/><circle cx="1124.8" cy="2199.4" r="10.5"/><circle cx="1133.8" cy="2199.4" r="10.5"/><circle cx="1158.0" cy="2199.4" r="10.5"/><circle cx="1179.6" cy="2199.4" r="10.5"/><circle cx="1193.6" cy="2199.4" r="10.5"/><circle cx="1196.2" cy="2199.4" r="10.5"/><circle cx="983.4" cy="2261.6" r="10.5"/><circle cx="1022.9" cy="2261.6" r="10.5"/><circle cx="1065.0" cy="2261.6" r="10.5"/><circle cx="1118.5" cy="2261.6" r="10.5"/><circle cx="1123.6" cy="2261.6" r="10.5"/><circle cx="1126.1" cy="2261.6" r="10.5"/><circle cx="1131.2" cy="2261.6" r="10.5"/><circle cx="1182.2" cy="2261.6" r="10.5"/><circle cx="1216.2" cy="2199.4" r="10.5"/><circle cx="1223.9" cy="2199.4" r="10.5"/><circle cx="1237.9" cy="2199.4" r="10.5"/><circle cx="1264.6" cy="2199.4" r="10.5"/><circle cx="1278.7" cy="2199.4" r="10.5"/><circle cx="1325.8" cy="2199.4" r="10.5"/><circle cx="1361.5" cy="2199.4" r="10.5"/><circle cx="1364.0" cy="2199.4" r="10.5"/><circle cx="1391.5" cy="2199.4" r="10.5"/><circle cx="1485.0" cy="2199.4" r="10.5"/><circle cx="1221.3" cy="2261.6" r="10.5"/><circle cx="1230.3" cy="2261.6" r="10.5"/><circle cx="1307.2" cy="2261.6" r="10.5"/><circle cx="1438.7" cy="2261.6" r="10.5"/><circle cx="1152.5" cy="2323.8" r="10.5"/><circle cx="1166.6" cy="2323.8" r="10.5"/><circle cx="1189.5" cy="2323.8" r="10.5"/><circle cx="1217.5" cy="2323.8" r="10.5"/><circle cx="1235.4" cy="2323.8" r="10.5"/><circle cx="1316.1" cy="2323.8" r="10.5"/><circle cx="1063.4" cy="2323.8" r="10.5"/><circle cx="1068.0" cy="2323.8" r="10.5"/><circle cx="1069.5" cy="2323.8" r="10.5"/><circle cx="1114.3" cy="2323.8" r="10.5"/><circle cx="920.7" cy="2386.0" r="10.5"/><circle cx="949.5" cy="2386.0" r="10.5"/><circle cx="1027.2" cy="2386.0" r="10.5"/><circle cx="1051.9" cy="2386.0" r="10.5"/><circle cx="1063.4" cy="2386.0" r="10.5"/><circle cx="1074.8" cy="2386.0" r="10.5"/><circle cx="1124.5" cy="2386.0" r="10.5"/><circle cx="1051.4" cy="2448.2" r="10.5"/><circle cx="1121.2" cy="2448.2" r="10.5"/><circle cx="1159.1" cy="2386.0" r="10.5"/><circle cx="1160.6" cy="2386.0" r="10.5"/><circle cx="1187.9" cy="2386.0" r="10.5"/><circle cx="1230.4" cy="2448.2" r="10.5"/><circle cx="1132.4" cy="2510.4" r="10.5"/><circle cx="801.9" cy="2510.4" r="10.5"/><circle cx="864.3" cy="2510.4" r="10.5"/><circle cx="934.9" cy="2572.7" r="10.5"/><circle cx="957.8" cy="2572.7" r="10.5"/><circle cx="768.8" cy="2634.9" r="10.5"/><circle cx="769.8" cy="2634.9" r="10.5"/><circle cx="631.7" cy="2572.1" r="10.5"/><circle cx="698.4" cy="2572.1" r="10.5"/><circle cx="660.1" cy="2634.2" r="10.5"/><circle cx="726.8" cy="2633.7" r="10.5"/><circle cx="1517.4" cy="2386.0" r="10.5"/>
</g>
<g fill="#f15a29" fill-opacity="0.5" stroke="#f15a29" stroke-opacity="0.5" stroke-width="4.2">
<circle cx="1422.9" cy="1706.5" r="10.5"/><circle cx="1328.7" cy="1732.7" r="10.5"/><circle cx="1400.0" cy="1759.9" r="10.5"/><circle cx="1531.8" cy="1706.5" r="10.5"/><circle cx="1522.4" cy="1759.9" r="10.5"/><circle cx="1342.0" cy="1799.6" r="10.5"/><circle cx="1387.4" cy="1799.6" r="10.5"/><circle cx="1455.4" cy="1797.0" r="10.5"/><circle cx="1489.8" cy="1813.6" r="10.5"/><circle cx="1208.3" cy="1826.3" r="10.5"/><circle cx="1305.9" cy="1825.8" r="10.5"/><circle cx="1219.7" cy="1853.0" r="10.5"/><circle cx="1401.9" cy="1853.0" r="10.5"/><circle cx="1464.3" cy="1860.7" r="10.5"/><circle cx="1488.5" cy="1851.8" r="10.5"/><circle cx="1260.5" cy="1878.5" r="10.5"/><circle cx="1296.2" cy="1879.8" r="10.5"/><circle cx="1370.1" cy="1879.8" r="10.5"/><circle cx="1199.4" cy="1892.5" r="10.5"/><circle cx="1265.6" cy="1892.5" r="10.5"/><circle cx="1280.9" cy="1892.5" r="10.5"/><circle cx="1316.6" cy="1892.5" r="10.5"/><circle cx="1390.4" cy="1892.5" r="10.5"/><circle cx="1454.1" cy="1892.5" r="10.5"/><circle cx="1238.9" cy="1905.2" r="10.5"/><circle cx="1265.6" cy="1905.2" r="10.5"/><circle cx="1273.8" cy="1904.5" r="10.5"/><circle cx="1278.3" cy="1906.5" r="10.5"/><circle cx="1281.4" cy="1908.3" r="10.5"/><circle cx="1314.0" cy="1905.2" r="10.5"/><circle cx="1324.2" cy="1906.5" r="10.5"/><circle cx="1414.6" cy="1905.2" r="10.5"/><circle cx="1415.2" cy="1905.7" r="10.5"/><circle cx="1233.8" cy="1919.2" r="10.5"/><circle cx="1283.4" cy="1919.2" r="10.5"/><circle cx="1298.7" cy="1919.2" r="10.5"/><circle cx="1306.4" cy="1919.2" r="10.5"/><circle cx="1179.0" cy="1925.1" r="10.5"/><circle cx="1326.8" cy="1933.2" r="10.5"/><circle cx="1333.1" cy="1933.2" r="10.5"/><circle cx="1400.6" cy="1933.2" r="10.5"/><circle cx="1470.7" cy="1932.7" r="10.5"/><circle cx="1218.5" cy="1946.0" r="10.5"/><circle cx="1275.8" cy="1946.0" r="10.5"/><circle cx="1282.2" cy="1947.2" r="10.5"/><circle cx="1330.6" cy="1946.0" r="10.5"/><circle cx="1373.9" cy="1946.0" r="10.5"/><circle cx="1149.7" cy="1959.5" r="10.5"/><circle cx="1162.4" cy="1959.5" r="10.5"/><circle cx="1283.4" cy="1960.0" r="10.5"/><circle cx="1340.8" cy="1958.7" r="10.5"/><circle cx="1377.7" cy="1958.7" r="10.5"/><circle cx="1395.5" cy="1960.0" r="10.5"/><circle cx="1317.8" cy="1786.9" r="10.5"/><circle cx="1516.6" cy="1813.1" r="10.5"/><circle cx="1517.1" cy="1813.6" r="10.5"/><circle cx="1561.9" cy="1879.3" r="10.5"/><circle cx="1242.0" cy="1974.2" r="10.5"/><circle cx="1242.5" cy="1974.7" r="10.5"/><circle cx="1315.9" cy="1985.6" r="10.5"/><circle cx="1388.5" cy="1985.6" r="10.5"/><circle cx="1146.5" cy="1998.3" r="10.5"/><circle cx="1067.0" cy="2012.3" r="10.5"/><circle cx="1127.4" cy="2012.3" r="10.5"/><circle cx="1140.1" cy="2012.3" r="10.5"/><circle cx="1267.5" cy="2012.3" r="10.5"/><circle cx="1268.0" cy="2012.8" r="10.5"/><circle cx="1271.3" cy="2011.1" r="10.5"/><circle cx="1351.6" cy="2017.4" r="10.5"/><circle cx="1364.3" cy="2012.3" r="10.5"/><circle cx="1244.6" cy="2026.3" r="10.5"/><circle cx="1270.1" cy="2026.3" r="10.5"/><circle cx="1294.3" cy="2026.3" r="10.5"/><circle cx="1382.2" cy="2018.7" r="10.5"/><circle cx="1397.5" cy="2013.6" r="10.5"/><circle cx="1338.9" cy="2039.1" r="10.5"/><circle cx="1382.2" cy="2037.8" r="10.5"/><circle cx="1397.5" cy="2039.1" r="10.5"/><circle cx="1202.5" cy="2053.1" r="10.5"/><circle cx="1219.1" cy="2065.8" r="10.5"/><circle cx="1285.4" cy="2067.1" r="10.5"/><circle cx="1010.2" cy="2079.3" r="10.5"/><circle cx="1156.7" cy="2072.2" r="10.5"/><circle cx="1169.4" cy="2079.8" r="10.5"/><circle cx="1280.3" cy="2077.3" r="10.5"/><circle cx="1280.8" cy="2077.8" r="10.5"/><circle cx="1287.9" cy="2077.3" r="10.5"/><circle cx="1303.2" cy="2078.5" r="10.5"/><circle cx="1366.9" cy="2078.5" r="10.5"/><circle cx="1192.4" cy="2092.5" r="10.5"/><circle cx="1244.6" cy="2093.8" r="10.5"/><circle cx="1277.7" cy="2091.3" r="10.5"/><circle cx="1293.0" cy="2092.5" r="10.5"/><circle cx="1322.3" cy="2092.5" r="10.5"/><circle cx="1179.6" cy="2105.3" r="10.5"/><circle cx="1109.6" cy="2105.3" r="10.5"/><circle cx="1286.6" cy="2105.3" r="10.5"/><circle cx="1294.3" cy="2105.3" r="10.5"/><circle cx="1327.4" cy="2105.3" r="10.5"/><circle cx="1352.9" cy="2105.3" r="10.5"/><circle cx="1101.9" cy="2119.3" r="10.5"/><circle cx="1220.4" cy="2120.5" r="10.5"/><circle cx="1315.9" cy="2118.0" r="10.5"/><circle cx="1338.9" cy="2118.0" r="10.5"/><circle cx="1065.0" cy="2132.0" r="10.5"/><circle cx="1187.3" cy="2132.0" r="10.5"/><circle cx="1270.1" cy="2132.0" r="10.5"/><circle cx="1350.3" cy="2132.0" r="10.5"/><circle cx="1356.7" cy="2132.0" r="10.5"/><circle cx="1165.6" cy="2146.0" r="10.5"/><circle cx="1261.1" cy="2146.0" r="10.5"/><circle cx="1273.9" cy="2158.7" r="10.5"/><circle cx="1231.8" cy="2171.4" r="10.5"/><circle cx="1436.9" cy="2012.3" r="10.5"/><circle cx="1419.1" cy="2026.3" r="10.5"/><circle cx="1400.0" cy="2023.8" r="10.5"/><circle cx="1501.1" cy="2079.3" r="10.5"/><circle cx="1405.1" cy="2078.5" r="10.5"/><circle cx="1406.4" cy="2119.3" r="10.5"/><circle cx="1464.2" cy="2132.5" r="10.5"/><circle cx="1063.7" cy="2172.1" r="10.5"/><circle cx="1070.8" cy="2212.1" r="10.5"/><circle cx="1178.3" cy="2212.1" r="10.5"/><circle cx="1101.9" cy="2226.8" r="10.5"/><circle cx="1119.7" cy="2238.3" r="10.5"/><circle cx="1173.2" cy="2252.3" r="10.5"/><circle cx="1193.6" cy="2252.3" r="10.5"/><circle cx="982.2" cy="2265.0" r="10.5"/><circle cx="1081.5" cy="2265.0" r="10.5"/><circle cx="1098.1" cy="2265.0" r="10.5"/><circle cx="1216.2" cy="2185.4" r="10.5"/><circle cx="1256.5" cy="2185.4" r="10.5"/><circle cx="1333.4" cy="2185.4" r="10.5"/><circle cx="1211.1" cy="2216.0" r="10.5"/><circle cx="1240.4" cy="2212.2" r="10.5"/><circle cx="1328.3" cy="2199.4" r="10.5"/><circle cx="1223.4" cy="2226.2" r="10.5"/><circle cx="1308.5" cy="2225.7" r="10.5"/><circle cx="1260.8" cy="2238.9" r="10.5"/><circle cx="1262.9" cy="2251.6" r="10.5"/><circle cx="1203.5" cy="2265.6" r="10.5"/><circle cx="1274.1" cy="2278.9" r="10.5"/><circle cx="1274.6" cy="2279.4" r="10.5"/><circle cx="1152.5" cy="2278.9" r="10.5"/><circle cx="1197.1" cy="2292.4" r="10.5"/><circle cx="1162.7" cy="2305.1" r="10.5"/><circle cx="1152.5" cy="2320.4" r="10.5"/><circle cx="1234.8" cy="2319.1" r="10.5"/><circle cx="1152.5" cy="2358.6" r="10.5"/><circle cx="948.7" cy="2318.5" r="10.5"/><circle cx="984.4" cy="2318.5" r="10.5"/><circle cx="953.3" cy="2346.0" r="10.5"/><circle cx="879.4" cy="2358.7" r="10.5"/><circle cx="1053.2" cy="2358.7" r="10.5"/><circle cx="1125.8" cy="2305.7" r="10.5"/><circle cx="1138.5" cy="2304.5" r="10.5"/><circle cx="1119.4" cy="2315.9" r="10.5"/><circle cx="1120.7" cy="2357.9" r="10.5"/><circle cx="1134.7" cy="2355.4" r="10.5"/><circle cx="995.1" cy="2385.4" r="10.5"/><circle cx="909.2" cy="2412.1" r="10.5"/><circle cx="1047.3" cy="2413.9" r="10.5"/><circle cx="1145.9" cy="2375.1" r="10.5"/><circle cx="1163.7" cy="2375.1" r="10.5"/><circle cx="1154.8" cy="2378.2" r="10.5"/><circle cx="1187.9" cy="2385.3" r="10.5"/><circle cx="1170.1" cy="2398.8" r="10.5"/><circle cx="1162.4" cy="2425.3" r="10.5"/><circle cx="1215.9" cy="2425.3" r="10.5"/><circle cx="1143.8" cy="2438.7" r="10.5"/><circle cx="1288.5" cy="2452.0" r="10.5"/><circle cx="1171.3" cy="2465.5" r="10.5"/><circle cx="1206.5" cy="2461.1" r="10.5"/><circle cx="1137.5" cy="2478.7" r="10.5"/><circle cx="1202.7" cy="2505.4" r="10.5"/><circle cx="875.3" cy="2465.4" r="10.5"/><circle cx="1014.6" cy="2465.4" r="10.5"/><circle cx="998.6" cy="2518.4" r="10.5"/><circle cx="954.0" cy="2531.6" r="10.5"/><circle cx="865.1" cy="2545.1" r="10.5"/><circle cx="1007.0" cy="2571.8" r="10.5"/><circle cx="826.1" cy="2571.8" r="10.5"/><circle cx="836.8" cy="2583.8" r="10.5"/><circle cx="849.0" cy="2585.1" r="10.5"/><circle cx="843.4" cy="2598.3" r="10.5"/><circle cx="767.5" cy="2585.1" r="10.5"/><circle cx="798.9" cy="2598.3" r="10.5"/><circle cx="597.9" cy="2598.6" r="10.5"/><circle cx="655.0" cy="2598.4" r="10.5"/><circle cx="669.7" cy="2598.4" r="10.5"/><circle cx="695.3" cy="2599.0" r="10.5"/><circle cx="704.1" cy="2638.5" r="10.5"/><circle cx="733.9" cy="2652.0" r="10.5"/><circle cx="910.3" cy="2665.3" r="10.5"/><circle cx="982.4" cy="2638.5" r="10.5"/><circle cx="673.3" cy="2718.2" r="10.5"/><circle cx="1219.3" cy="2704.8" r="10.5"/><circle cx="1052.2" cy="1946.0" r="10.5"/><circle cx="1093.9" cy="2277.9" r="10.5"/><circle cx="1096.7" cy="2370.9" r="10.5"/>
</g>
<polygon points="591.4,2638.7 611.9,2620.9 632.3,2603.1 652.8,2585.4 673.2,2567.6 693.7,2549.8 714.1,2532.1 734.6,2514.3 755.0,2496.5 775.5,2478.8 795.9,2461.0 816.4,2443.2 836.8,2425.5 857.2,2407.7 877.7,2389.9 898.1,2372.2 918.6,2354.4 939.1,2336.6 959.5,2318.9 980.0,2301.1 1000.4,2283.3 1020.9,2265.6 1041.3,2247.8 1061.8,2230.0 1082.2,2212.3 1102.7,2194.5 1123.1,2176.7 1143.6,2159.0 1164.0,2141.2 1184.5,2123.4 1204.9,2105.7 1225.3,2087.9 1245.8,2070.1 1266.2,2052.4 1286.7,2034.6 1307.2,2016.8 1327.6,1999.1 1348.1,1981.3 1368.5,1963.5 1389.0,1945.8 1409.4,1928.0 1429.9,1910.2 1450.3,1892.5 1470.8,1874.7 1491.2,1856.7 1511.7,1837.7 1532.1,1818.8 1552.6,1799.8 1573.0,1780.8 1593.5,1761.9 1613.9,1742.9 1634.4,1724.0 1654.8,1705.0 1675.3,1686.0 1695.7,1667.1 1716.2,1648.1 1736.6,1629.1 1757.1,1610.2 1777.5,1591.2 1798.0,1572.3 1818.4,1553.3 1838.9,1534.3 1859.3,1515.4 1879.8,1496.4 1879.8,1534.3 1859.3,1552.0 1838.9,1569.8 1818.4,1587.6 1798.0,1605.3 1777.5,1623.1 1757.1,1640.9 1736.6,1658.7 1716.2,1676.4 1695.7,1694.2 1675.3,1712.0 1654.8,1729.7 1634.4,1747.5 1613.9,1765.3 1593.5,1783.0 1573.0,1800.8 1552.6,1818.6 1532.1,1836.3 1511.7,1854.1 1491.2,1871.9 1470.8,1890.6 1450.3,1909.5 1429.9,1928.5 1409.4,1947.5 1389.0,1966.4 1368.5,1985.4 1348.1,2004.4 1327.6,2023.3 1307.2,2042.3 1286.7,2061.2 1266.2,2080.2 1245.8,2099.2 1225.3,2118.1 1204.9,2137.1 1184.5,2156.0 1164.0,2175.0 1143.6,2194.0 1123.1,2212.9 1102.7,2231.9 1082.2,2250.9 1061.8,2269.8 1041.3,2288.8 1020.9,2307.7 1000.4,2326.7 980.0,2345.7 959.5,2364.6 939.1,2383.6 918.6,2402.5 898.1,2421.5 877.7,2440.5 857.2,2459.4 836.8,2478.4 816.4,2497.4 795.9,2516.3 775.5,2535.3 755.0,2554.2 734.6,2573.2 714.1,2592.2 693.7,2611.1 673.2,2630.1 652.8,2649.1 632.3,2668.0 611.9,2687.0 591.4,2705.9" fill="#000" fill-opacity="0.22"/>
<line x1="571.0" y1="2690.7" x2="1900.2" y2="1497.0" stroke="#0a0a0a" stroke-width="10"/>
</g>
<g stroke="#000" stroke-width="3.2" fill="none" stroke-linecap="butt">
<path d="M596.3 1545 L596.3 2796 L1866.4 2796"/>
<path d="M595 1502.8 L1866.4 1502.8"/>
<path d="M1908.4 1545 L1908.4 2797.6"/>
</g>
<g stroke="#000" stroke-width="2.8" fill="none">
<path d="M714.1 2796 v13"/><path d="M714.1 1502.8 v12"/><path d="M918.6 2796 v13"/><path d="M918.6 1502.8 v12"/><path d="M1123.1 2796 v13"/><path d="M1123.1 1502.8 v12"/><path d="M1327.6 2796 v13"/><path d="M1327.6 1502.8 v12"/><path d="M1532.1 2796 v13"/><path d="M1532.1 1502.8 v12"/><path d="M1736.6 2796 v13"/><path d="M1736.6 1502.8 v12"/><path d="M596.3 2759.3 h-13.5"/><path d="M1908.4 2759.3 h-12.5"/><path d="M596.3 2572.7 h-13.5"/><path d="M1908.4 2572.7 h-12.5"/><path d="M596.3 2386.0 h-13.5"/><path d="M1908.4 2386.0 h-12.5"/><path d="M596.3 2199.4 h-13.5"/><path d="M1908.4 2199.4 h-12.5"/><path d="M596.3 2012.7 h-13.5"/><path d="M1908.4 2012.7 h-12.5"/><path d="M596.3 1826.1 h-13.5"/><path d="M1908.4 1826.1 h-12.5"/><path d="M596.3 1639.4 h-13.5"/><path d="M1908.4 1639.4 h-12.5"/>
</g>
<g class="dj" font-size="52">
<text class="dj" x="714.1" y="2861.3" text-anchor="middle">1</text><text class="dj" x="918.6" y="2861.3" text-anchor="middle">2</text><text class="dj" x="1123.1" y="2861.3" text-anchor="middle">3</text><text class="dj" x="1327.6" y="2861.3" text-anchor="middle">4</text><text class="dj" x="1532.1" y="2861.3" text-anchor="middle">5</text><text class="dj" x="1736.6" y="2861.3" text-anchor="middle">6</text><text class="dj" x="570" y="2778.8" text-anchor="end">0</text><text class="dj" x="570" y="2592.2" text-anchor="end">1</text><text class="dj" x="570" y="2405.5" text-anchor="end">2</text><text class="dj" x="570" y="2218.9" text-anchor="end">3</text><text class="dj" x="570" y="2032.2" text-anchor="end">4</text><text class="dj" x="570" y="1845.6" text-anchor="end">5</text><text class="dj" x="570" y="1658.9" text-anchor="end">6</text>
</g>
<rect x="622.6" y="1572.8" width="405.5" height="171.4" rx="7" ry="7" fill="#fff" fill-opacity="0.8" stroke="#d3d3d3" stroke-width="4"/>
<circle cx="696.3" cy="1620.7" r="10.5" fill="#4452ae" fill-opacity="0.38" stroke="#4452ae" stroke-opacity="0.38" stroke-width="4.2"/>
<circle cx="696.3" cy="1698.3" r="10.5" fill="#f15a29" fill-opacity="0.5" stroke="#f15a29" stroke-opacity="0.5" stroke-width="4.2"/>
<text class="dj" font-size="53.3" x="793" y="1634.9">Healthy</text>
<text class="dj" font-size="53.3" x="793" y="1712">Patients</text>
<text class="dj" font-size="53" x="714" y="1826.6">R = 0.82</text>
<text class="my" font-size="42.5" x="495.5" y="1650.5" text-anchor="end" textLength="206" lengthAdjust="spacingAndGlyphs">Recounted</text>
<text class="my" font-size="42.5" x="495.5" y="1837.6" text-anchor="end" textLength="284" lengthAdjust="spacingAndGlyphs">Recapitualated</text>
<text class="my" font-size="42.5" x="495.5" y="2032.5" text-anchor="end" textLength="238" lengthAdjust="spacingAndGlyphs">Summarized</text>
<text class="my" font-size="42.5" x="495.5" y="2207.5" text-anchor="end" textLength="118" lengthAdjust="spacingAndGlyphs">Partial</text>
<text class="my" font-size="42.5" x="495.5" y="2397.2" text-anchor="end" textLength="143" lengthAdjust="spacingAndGlyphs">Limited</text>
<text class="my" font-size="42.5" x="495.5" y="2578.7" text-anchor="end" textLength="153" lengthAdjust="spacingAndGlyphs">Minimal</text>
<text class="my" font-size="42.5" x="495.5" y="2769" text-anchor="end" textLength="416" lengthAdjust="spacingAndGlyphs">Silent or unintelligible</text>
<text class="my" font-size="60" transform="translate(162.3 2128.7) rotate(-90)" text-anchor="middle" textLength="445" lengthAdjust="spacingAndGlyphs">HUMAN RATING</text>
<text font-size="56" x="1274.5" y="2964.6" text-anchor="middle" textLength="569" lengthAdjust="spacingAndGlyphs">PREDICTED RATING</text>
</g>
</svg>
</body>
</html>
